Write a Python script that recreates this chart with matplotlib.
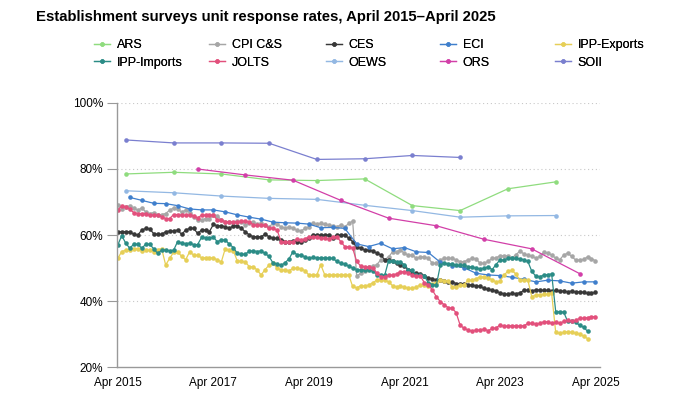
import matplotlib
matplotlib.use("Agg")
import matplotlib.pyplot as plt
import pandas as pd

plt.rcParams['font.family'] = ['Liberation Sans', 'DejaVu Sans']

# monthly dates Apr 2015 - Apr 2025
months = pd.date_range('2015-04-01', '2025-04-01', freq='MS')

# annual surveys (mid-year points)
annual_dates = pd.to_datetime(['2015-06-01', '2016-06-01', '2017-06-01', '2018-06-01',
                               '2019-06-01', '2020-06-01', '2021-06-01', '2022-06-01',
                               '2023-06-01', '2024-06-01'])
ars = [78.5, 79.0, 78.5, 76.7, 76.5, 77.0, 68.9, 67.4, 74.0, 76.1]
oews = [73.4, 72.8, 71.8, 71.1, 70.8, 69.0, 67.4, 65.4, 65.8, 65.9]
soii = [88.8, 87.9, 87.9, 87.8, 82.9, 83.1, 84.1, 83.5]

ors_dates = pd.to_datetime(['2016-12-01', '2017-12-01', '2018-12-01', '2019-12-01',
                            '2020-12-01', '2021-12-01', '2022-12-01', '2023-12-01',
                            '2024-12-01'])
ors = [80.0, 78.2, 76.6, 70.5, 65.1, 62.8, 58.7, 55.8, 48.3]

# quarterly ECI
eci_dates = pd.date_range('2015-07-01', '2025-04-01', freq='3MS')
eci = [71.4, 70.5, 69.6, 69.5, 68.9, 67.9, 67.6, 67.6, 67.0, 66.1,
       65.4, 64.8, 63.9, 63.7, 63.6, 63.3, 62.2, 62.3, 62.0, 57.3,
       56.5, 57.5, 55.8, 56.2, 54.9, 54.7, 51.7, 50.7, 50.1, 48.4,
       47.9, 47.7, 47.2, 46.6, 45.8, 46.3, 46.1, 45.4, 45.8, 45.8]

cpi = [69.0, 68.0, 68.6, 68.8, 68.2, 67.5, 68.2, 67.0, 66.5, 66.8,
       66.0, 66.2, 66.5, 67.5, 68.2, 67.8, 67.0, 67.5, 66.8, 65.5,
       64.5, 64.5, 65.0, 64.8, 66.0, 65.8, 64.5, 64.0, 63.8, 63.5,
       64.2, 64.0, 63.0, 63.5, 64.0, 63.2, 63.5, 63.0, 62.5, 63.5,
       63.2, 62.5, 62.0, 62.5, 62.0, 61.5, 61.2, 62.0, 62.5, 63.5,
       63.2, 63.5, 63.2, 63.0, 62.8, 62.5, 63.0, 62.5, 63.5, 64.2,
       47.5, 48.4, 49.0, 50.4, 50.5, 51.0, 52.4, 52.5, 53.4, 54.9,
       55.0, 55.4, 54.5, 53.9, 53.9, 52.9, 53.4, 53.4, 53.0, 51.4,
       51.4, 52.5, 52.9, 52.9, 52.9, 52.5, 51.9, 51.9, 52.5, 52.9,
       52.8, 51.4, 51.4, 52.0, 52.9, 53.0, 53.7, 53.7, 53.7, 53.0,
       54.0, 55.1, 54.3, 53.9, 53.5, 53.0, 53.5, 54.7, 54.5, 53.9,
       53.0, 52.5, 53.9, 54.5, 53.5, 52.4, 52.4, 52.6, 53.4, 52.8,
       52.2]

ces = [61.0, 61.0, 61.0, 61.0, 60.2, 60.0, 61.5, 62.0, 61.8, 60.4,
       60.2, 60.2, 61.0, 61.2, 61.2, 61.5, 60.2, 61.5, 62.0, 62.0,
       60.5, 61.5, 61.5, 61.0, 63.2, 62.8, 62.8, 62.5, 62.0, 62.8,
       62.8, 62.0, 61.0, 60.0, 59.5, 59.5, 59.5, 60.2, 59.5, 59.0,
       59.0, 58.6, 58.0, 58.0, 58.2, 58.0, 58.0, 58.5, 59.0, 60.0,
       60.0, 60.0, 60.0, 60.0, 59.2, 60.0, 60.0, 60.0, 59.0, 58.0,
       56.4, 56.0, 55.5, 55.4, 55.2, 54.5, 54.0, 52.5, 52.4, 52.2,
       51.5, 51.0, 50.5, 49.5, 48.6, 48.4, 48.3, 47.5, 47.0, 46.8,
       46.3, 46.3, 46.0, 45.8, 45.8, 45.3, 45.3, 45.3, 45.0, 44.8,
       44.6, 44.4, 43.8, 43.5, 43.4, 43.0, 42.5, 42.2, 42.0, 42.3,
       42.2, 42.5, 43.2, 43.3, 43.0, 43.4, 43.3, 43.2, 43.2, 43.0,
       43.2, 43.0, 43.0, 42.8, 43.0, 42.7, 42.8, 42.6, 42.3, 42.4,
       42.6]

# IPP series end Feb 2025
ipp_exp = [52.9, 55.0, 55.4, 55.5, 55.9, 55.9, 55.2, 55.4, 55.4, 55.0,
           55.5, 55.9, 50.9, 52.9, 54.8, 55.0, 53.5, 52.5, 54.9, 53.9,
           53.8, 53.1, 53.1, 53.0, 53.1, 52.4, 51.9, 55.9, 55.4, 55.2,
           52.1, 52.0, 51.8, 50.4, 50.4, 49.4, 47.9, 49.5, 50.9, 51.5,
           50.0, 49.4, 49.4, 49.2, 49.9, 49.9, 49.8, 49.2, 47.9, 47.9,
           47.9, 51.0, 47.9, 47.9, 47.9, 48.0, 48.0, 47.9, 47.8, 44.4,
           44.0, 44.6, 44.5, 44.8, 45.5, 46.3, 46.5, 46.3, 45.8, 44.6,
           44.3, 44.4, 44.3, 43.8, 43.8, 44.3, 44.8, 44.8, 44.6, 45.2,
           45.5, 46.3, 46.2, 46.0, 44.3, 44.3, 44.8, 45.0, 46.3, 46.3,
           46.8, 47.3, 47.3, 46.9, 46.5, 45.8, 46.0, 47.8, 49.0, 49.3,
           48.2, 46.3, 46.4, 46.3, 41.3, 41.8, 41.9, 42.0, 42.0, 42.3,
           30.5, 30.2, 30.5, 30.7, 30.5, 30.2, 30.0, 29.3, 28.6]

ipp_imp = [57.0, 59.8, 57.5, 56.0, 57.2, 57.2, 56.0, 57.2, 57.2, 55.8,
           54.4, 55.4, 55.5, 55.2, 55.4, 58.0, 57.5, 57.4, 57.5, 57.1,
           57.1, 59.3, 59.2, 59.2, 59.3, 58.0, 58.5, 58.5, 57.2, 56.2,
           54.4, 54.1, 54.2, 55.1, 55.2, 55.0, 55.2, 54.4, 53.5, 51.5,
           51.2, 50.8, 51.6, 52.8, 55.0, 54.0, 53.9, 53.4, 52.9, 53.2,
           53.1, 53.1, 53.1, 53.0, 52.9, 52.0, 51.4, 51.2, 50.5, 50.0,
           49.5, 49.4, 49.4, 49.5, 49.2, 48.0, 47.8, 47.8, 52.2, 52.0,
           51.8, 51.8, 51.0, 49.5, 49.3, 47.8, 47.8, 47.6, 45.5, 45.0,
           44.8, 50.9, 51.5, 51.3, 51.2, 50.9, 50.8, 50.9, 50.4, 50.3,
           49.9, 49.8, 49.9, 50.4, 49.5, 51.0, 52.4, 52.4, 52.9, 53.0,
           52.9, 52.8, 52.5, 52.0, 49.0, 47.5, 47.4, 47.8, 48.0, 48.2,
           36.8, 36.8, 36.6, 33.8, 33.8, 33.6, 32.6, 32.0, 30.8]

jolts = [67.6, 68.8, 68.6, 67.8, 66.8, 66.5, 66.5, 66.5, 66.0, 66.0,
         66.0, 65.5, 65.0, 65.0, 66.2, 66.2, 66.0, 66.0, 66.0, 65.8,
         65.2, 66.0, 66.0, 66.0, 66.0, 64.5, 64.5, 64.0, 64.0, 64.0,
         64.0, 64.2, 64.2, 64.0, 63.0, 63.0, 63.0, 63.0, 62.0, 62.0,
         61.5, 58.0, 58.0, 58.0, 58.0, 58.8, 58.5, 58.8, 59.5, 59.5,
         59.5, 59.0, 59.0, 58.8, 59.5, 59.5, 58.0, 56.5, 56.4, 56.0,
         52.0, 50.6, 50.4, 50.2, 50.0, 48.5, 47.4, 47.3, 47.8, 47.9,
         48.2, 48.9, 48.9, 48.5, 47.8, 47.5, 47.6, 45.5, 45.0, 43.3,
         41.3, 39.8, 38.8, 38.0, 37.8, 36.5, 32.7, 31.7, 31.2, 30.9,
         31.2, 31.2, 31.5, 31.0, 31.7, 31.8, 32.7, 32.4, 32.4, 32.5,
         32.5, 32.4, 32.5, 33.2, 33.2, 33.0, 33.2, 33.7, 33.7, 33.2,
         33.5, 33.2, 33.8, 34.2, 33.8, 34.2, 34.7, 34.8, 35.0, 35.2,
         35.3]

labels = ['ARS', 'CPI C&S', 'CES', 'ECI', 'IPP-Exports',
          'IPP-Imports', 'JOLTS', 'OEWS', 'ORS', 'SOII']
colors = ['#8fdc7e', '#a6a6a6', '#383838', '#3f7fcc', '#e6cf57',
          '#2b8c86', '#e2507c', '#93b8e3', '#d23fa8', '#7a7fcf']

series = [
    (annual_dates, ars),
    (months, cpi),
    (months, ces),
    (eci_dates, eci),
    (months[:len(ipp_exp)], ipp_exp),
    (months[:len(ipp_imp)], ipp_imp),
    (months, jolts),
    (annual_dates, oews),
    (ors_dates, ors),
    (annual_dates[:len(soii)], soii),
]

fig = plt.figure(figsize=(7, 3.94), dpi=100)
ax = fig.add_axes([0.167, 0.0685, 0.69, 0.6701])

handles = []
for (d, v), lab, c in zip(series, labels, colors):
    h, = ax.plot(d, v, color=c, lw=0.9, marker='o', markersize=3.3,
                 markeredgewidth=0, label=lab)
    handles.append(h)

ax.set_ylim(20, 100)
ax.set_yticks([20, 40, 60, 80, 100])
ax.set_yticklabels(['20%', '40%', '60%', '80%', '100%'], fontsize=8.5)
ax.set_xlim(pd.Timestamp('2015-03-25'), pd.Timestamp('2025-05-05'))
xt = pd.to_datetime(['2015-04-01', '2017-04-01', '2019-04-01',
                     '2021-04-01', '2023-04-01', '2025-04-01'])
ax.set_xticks(xt)
ax.set_xticklabels([t.strftime('Apr %Y') for t in xt], fontsize=8.5)
ax.tick_params(axis='x', length=0, pad=7)
ax.tick_params(axis='y', length=7, color='#999999', pad=3)

for y in [40, 60, 80, 100]:
    ax.axhline(y, color='#c8c8c8', lw=0.8, ls=(0, (1, 2.5)), zorder=0)

for s in ['top', 'right']:
    ax.spines[s].set_visible(False)
for s in ['left', 'bottom']:
    ax.spines[s].set_color('#999999')
    ax.spines[s].set_linewidth(1.0)

fig.text(0.052, 0.957, 'Establishment surveys unit response rates, April 2015\u2013April 2025',
         fontsize=10.7, fontweight='bold', va='center', ha='left')

# legend: 5 evenly spaced columns, 2 rows
col_x = [94, 209, 326, 440, 555]
for i, x0 in enumerate(col_x):
    leg = fig.legend(handles=[handles[i], handles[i + 5]], loc='center left',
                     bbox_to_anchor=(x0 / 700, 1 - 54 / 394), frameon=False,
                     fontsize=9, handlelength=1.25, handletextpad=0.55,
                     labelspacing=0.45, borderpad=0, borderaxespad=0)
    fig.add_artist(leg)

fig.savefig('out.png', dpi=100)
